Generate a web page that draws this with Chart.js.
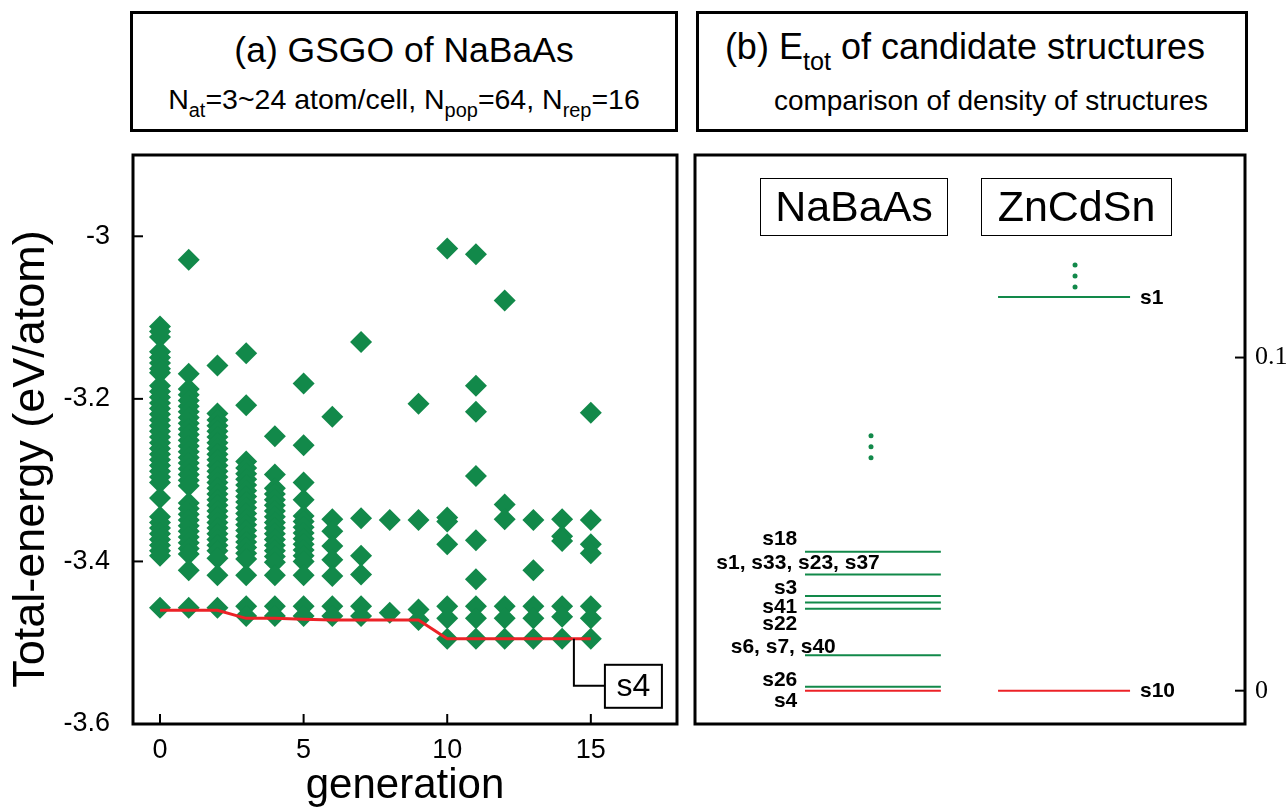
<!DOCTYPE html>
<html>
<head>
<meta charset="utf-8">
<title>GSGO of NaBaAs</title>
<script src="https://cdn.jsdelivr.net/npm/chart.js@4.4.1/dist/chart.umd.min.js"></script>
<style>
    body { margin: 0; background: #fff; font-family: "Liberation Sans", Arial, Helvetica, sans-serif; color: #000; }
    #fig { position: relative; width: 1287px; height: 808px; overflow: hidden; }
    canvas { position: absolute; top: 0; }
    #leftChart { left: 0; }
    #rightChart { left: 690px; }
    .box { position: absolute; border: 3px solid #000; box-sizing: border-box; background: #fff; }
    .line { position: absolute; left: 0; right: 0; text-align: center; white-space: nowrap; }
    .line sub { font-size: 0.7em; vertical-align: -0.42em; line-height: 0; }
    .tag { position: absolute; border: 1.5px solid #000; box-sizing: border-box; text-align: center; font-size: 43px; line-height: 55px; }
</style>
</head>
<body>
<div id="fig">
    <canvas id="leftChart" width="690" height="808"></canvas>
    <canvas id="rightChart" width="597" height="808"></canvas>

    <div class="box" style="left:130px; top:11px; width:548px; height:121px;">
        <div class="line" style="top:16px; font-size:35.5px; line-height:40px;">(a) GSGO of NaBaAs</div>
        <div class="line" style="top:68px; font-size:28.5px; line-height:34px;">N<sub>at</sub>=3~24 atom/cell, N<sub>pop</sub>=64, N<sub>rep</sub>=16</div>
    </div>
    <div class="box" style="left:696px; top:11px; width:552px; height:121px;">
        <div class="line" style="top:13px; font-size:36px; line-height:40px; padding-right:14px;">(b) E<sub>tot</sub> of candidate structures</div>
        <div class="line" style="top:70px; font-size:28px; line-height:34px; padding-left:38px;">comparison of density of structures</div>
    </div>

    <div class="tag" style="left:760px; top:178px; width:188px; height:58px;">NaBaAs</div>
    <div class="tag" style="left:981px; top:178px; width:191px; height:58px;">ZnCdSn</div>
</div>

<script>
// ---- panel (a): GSGO run ----
const generations = [0, 1, 2, 3, 4, 5, 6, 7, 8, 9, 10, 11, 12, 13, 14, 15];

// total energies (eV/atom) of the structures kept in each generation
const gen0 = [-3.111, -3.117, -3.124, -3.142, -3.149, -3.156, -3.163, -3.168, -3.184, -3.191, -3.198, -3.205,
              -3.212, -3.219, -3.226, -3.233, -3.240, -3.247, -3.254, -3.261, -3.268, -3.275, -3.282, -3.289,
              -3.296, -3.303, -3.322, -3.345, -3.352, -3.359, -3.366, -3.373, -3.380, -3.387, -3.393, -3.457];
const gen1 = [-3.029, -3.169, -3.188, -3.195, -3.202, -3.209, -3.216, -3.223, -3.230, -3.237, -3.244, -3.251,
              -3.258, -3.265, -3.272, -3.279, -3.286, -3.293, -3.300, -3.307, -3.328, -3.335, -3.342, -3.349,
              -3.356, -3.363, -3.370, -3.377, -3.384, -3.391, -3.411, -3.457];
const gen2 = [-3.159, -3.218, -3.226, -3.233, -3.240, -3.247, -3.254, -3.261, -3.268, -3.275, -3.282, -3.289,
              -3.296, -3.303, -3.310, -3.317, -3.324, -3.331, -3.338, -3.345, -3.352, -3.359, -3.366, -3.373,
              -3.380, -3.387, -3.396, -3.417, -3.457];
const gen3 = [-3.144, -3.208, -3.277, -3.285, -3.292, -3.299, -3.306, -3.313, -3.320, -3.327, -3.334, -3.341,
              -3.348, -3.355, -3.362, -3.369, -3.376, -3.383, -3.390, -3.397, -3.417, -3.455, -3.467];
const gen4 = [-3.246, -3.293, -3.310, -3.317, -3.324, -3.331, -3.338, -3.345, -3.352, -3.359, -3.366, -3.373,
              -3.380, -3.387, -3.394, -3.401, -3.417, -3.455, -3.467];
const gen5 = [-3.181, -3.257, -3.303, -3.324, -3.344, -3.351, -3.358, -3.365, -3.372, -3.379, -3.386, -3.393,
              -3.400, -3.417, -3.455, -3.467];
const gen6 = [-3.222, -3.348, -3.363, -3.381, -3.398, -3.418, -3.455, -3.467];
const gen7 = [-3.130, -3.347, -3.393, -3.416, -3.455, -3.467];
const gen8 = [-3.349, -3.463];
const gen9 = [-3.206, -3.349, -3.459, -3.472];
const gen10 = [-3.015, -3.346, -3.351, -3.379, -3.455, -3.470, -3.495];
const gen11 = [-3.022, -3.184, -3.216, -3.295, -3.374, -3.422, -3.455, -3.470, -3.495];
const gen12 = [-3.079, -3.330, -3.348, -3.455, -3.470, -3.495];
const gen13 = [-3.349, -3.411, -3.455, -3.470, -3.495];
const gen14 = [-3.348, -3.369, -3.375, -3.455, -3.468, -3.495];
const gen15 = [-3.217, -3.349, -3.379, -3.390, -3.455, -3.470, -3.495];

// lowest energy found so far (red line)
const bestSoFar = [-3.460, -3.460, -3.460, -3.470, -3.470, -3.471, -3.472, -3.472, -3.472, -3.472,
                   -3.495, -3.495, -3.495, -3.495, -3.495, -3.495];

const xTickValues = [0, 5, 10, 15];
const xTickLabels = ['0', '5', '10', '15'];
const yTickValues = [-3.6, -3.4, -3.2, -3.0];
const yTickLabels = ['-3.6', '-3.4', '-3.2', '-3'];

// ---- panel (b): candidate structures, energy relative to the lowest (eV/atom) ----
const naBaAsLevels = [0.0417, 0.0349, 0.0284, 0.0265, 0.0246, 0.0106, 0.0012, 0.0];
const naBaAsNames = ['s18', 's1, s33, s23, s37', 's3', 's41', 's22', 's6, s7, s40', 's26', 's4'];
const naBaAsDots = [0.0765, 0.0732, 0.0699];
const znCdSnLevels = [0.1182, 0.0];
const znCdSnNames = ['s1', 's10'];
const znCdSnDots = [0.1278, 0.1245, 0.1212];

const rightTickValues = [0, 0.1];
const rightTickLabels = ['0', '0.1'];

// ---- styling / layout ----
const GREEN = '#12894a';
const RED = '#ec2227';
const SANS = '"Liberation Sans", Arial, Helvetica, sans-serif';
const SERIF = '"Liberation Serif", "Times New Roman", serif';

// where the level lines and their labels sit along the hidden x axis of panel (b)
const NA_X = [2.0, 4.47];
const ZN_X = [5.51, 7.91];
const NA_DOT_X = 3.2;
const ZN_DOT_X = 6.91;
const ZN_NAME_X = 8.09;
const naNameX = [1.86, 3.36, 1.86, 1.86, 1.86, 2.56, 1.86, 1.86];
const naNameY = [0.0456, 0.0384, 0.0308, 0.0251, 0.0200, 0.0131, 0.0032, -0.0031];

Chart.defaults.font.family = SANS;
Chart.defaults.color = '#000';
Chart.defaults.animation = false;

// black frame around the plot area plus inward tick marks
const framePlugin = {
    id: 'frame',
    afterDraw(chart) {
        const { ctx, chartArea: a } = chart;
        ctx.save();
        ctx.strokeStyle = '#000';
        ctx.lineWidth = 2;
        Object.values(chart.scales).forEach(scale => {
            if (!scale.options.display) return;
            scale.ticks.forEach(t => {
                const p = scale.getPixelForValue(t.value);
                ctx.beginPath();
                if (scale.position === 'bottom') { ctx.moveTo(p, a.bottom); ctx.lineTo(p, a.bottom - 10); }
                else if (scale.position === 'left') { ctx.moveTo(a.left, p); ctx.lineTo(a.left + 10, p); }
                else if (scale.position === 'right') { ctx.moveTo(a.right, p); ctx.lineTo(a.right - 10, p); }
                ctx.stroke();
            });
        });
        ctx.lineWidth = 3;
        ctx.strokeRect(a.left, a.top, a.right - a.left, a.bottom - a.top);
        ctx.restore();
    }
};

// rotated y-axis title, sitting a bit below the middle of the axis like the original
const yTitlePlugin = {
    id: 'yTitle',
    afterDraw(chart) {
        const { ctx, scales: { y } } = chart;
        ctx.save();
        ctx.translate(32, y.getPixelForValue(-3.274));
        ctx.rotate(-Math.PI / 2);
        ctx.font = '45px ' + SANS;
        ctx.fillStyle = '#000';
        ctx.textAlign = 'center';
        ctx.textBaseline = 'middle';
        ctx.fillText('Total-energy (eV/atom)', 0, 0);
        ctx.restore();
    }
};

// "s4" call-out pointing at the final best structure
const calloutPlugin = {
    id: 'callout',
    afterDraw(chart) {
        const { ctx, scales: { x, y } } = chart;
        const px = x.getPixelForValue(14.41);
        const py = y.getPixelForValue(bestSoFar[bestSoFar.length - 1]);
        const ey = y.getPixelForValue(-3.553);
        const bx = x.getPixelForValue(15.49);
        ctx.save();
        ctx.strokeStyle = '#000';
        ctx.lineWidth = 2;
        ctx.beginPath();
        ctx.moveTo(px, py);
        ctx.lineTo(px, ey);
        ctx.lineTo(bx, ey);
        ctx.stroke();
        ctx.fillStyle = '#fff';
        ctx.fillRect(bx, ey - 21, 57, 43);
        ctx.strokeRect(bx, ey - 21, 57, 43);
        ctx.fillStyle = '#000';
        ctx.font = '32px ' + SANS;
        ctx.textAlign = 'center';
        ctx.textBaseline = 'middle';
        ctx.fillText('s4', bx + 28.5, ey + 1);
        ctx.restore();
    }
};

// structure names next to the energy levels
const levelNamesPlugin = {
    id: 'levelNames',
    afterDatasetsDraw(chart) {
        const { ctx, scales: { x, y } } = chart;
        ctx.save();
        ctx.fillStyle = '#000';
        ctx.font = 'bold 21px ' + SANS;
        ctx.textBaseline = 'middle';
        ctx.textAlign = 'right';
        naBaAsNames.forEach((name, i) => {
            ctx.fillText(name, x.getPixelForValue(naNameX[i]), y.getPixelForValue(naNameY[i]));
        });
        ctx.textAlign = 'left';
        znCdSnNames.forEach((name, i) => {
            ctx.fillText(name, x.getPixelForValue(ZN_NAME_X), y.getPixelForValue(znCdSnLevels[i]) + 1);
        });
        ctx.restore();
    }
};

function fixedTicks(values) {
    return scale => { scale.ticks = values.map(v => ({ value: v })); };
}

// ---- chart (a) ----
const populations = [gen0, gen1, gen2, gen3, gen4, gen5, gen6, gen7, gen8, gen9, gen10, gen11, gen12, gen13, gen14, gen15];
const scatterPoints = [];
populations.forEach((energies, i) => {
    energies.forEach(e => scatterPoints.push({ x: generations[i], y: e }));
});

new Chart(document.getElementById('leftChart'), {
    type: 'scatter',
    data: {
        datasets: [
            {
                type: 'line',
                label: 'best',
                data: generations.map((g, i) => ({ x: g, y: bestSoFar[i] })),
                borderColor: RED,
                borderWidth: 3,
                pointRadius: 0,
                tension: 0,
                order: 0
            },
            {
                label: 'population',
                data: scatterPoints,
                pointStyle: 'rectRot',
                pointRadius: 11,
                pointHoverRadius: 11,
                backgroundColor: GREEN,
                borderColor: GREEN,
                borderWidth: 0,
                order: 1
            }
        ]
    },
    options: {
        responsive: false,
        layout: { padding: { top: 155, right: 13, left: 0, bottom: 0 } },
        plugins: { legend: { display: false }, tooltip: { enabled: false } },
        scales: {
            x: {
                type: 'linear',
                position: 'bottom',
                min: -0.94,
                max: 18,
                afterBuildTicks: fixedTicks(xTickValues),
                afterFit: s => { s.height = 84; },
                grid: { display: false, drawTicks: false },
                border: { display: false },
                ticks: {
                    padding: 10,
                    font: { size: 27 },
                    callback: (v, i) => xTickLabels[i]
                },
                title: {
                    display: true,
                    text: 'generation',
                    font: { size: 42 },
                    padding: { top: 0, bottom: -4 }
                }
            },
            y: {
                type: 'linear',
                position: 'left',
                min: -3.6,
                max: -2.9,
                afterBuildTicks: fixedTicks(yTickValues),
                afterFit: s => { s.width = 133; },
                grid: { display: false, drawTicks: false },
                border: { display: false },
                ticks: {
                    padding: 23,
                    font: { size: 27 },
                    callback: (v, i) => yTickLabels[i]
                }
            }
        }
    },
    plugins: [framePlugin, yTitlePlugin, calloutPlugin]
});

// ---- chart (b) ----
function levelSet(levels, span, lowestColor) {
    return levels.map((e, i) => ({
        type: 'line',
        data: [{ x: span[0], y: e }, { x: span[1], y: e }],
        borderColor: i === levels.length - 1 ? lowestColor : GREEN,
        borderWidth: 2,
        pointRadius: 0
    }));
}

new Chart(document.getElementById('rightChart'), {
    type: 'scatter',
    data: {
        datasets: [
            ...levelSet(naBaAsLevels, NA_X, RED),
            ...levelSet(znCdSnLevels, ZN_X, RED),
            {
                data: naBaAsDots.map(e => ({ x: NA_DOT_X, y: e })),
                pointRadius: 2.5,
                backgroundColor: GREEN,
                borderWidth: 0
            },
            {
                data: znCdSnDots.map(e => ({ x: ZN_DOT_X, y: e })),
                pointRadius: 2.5,
                backgroundColor: GREEN,
                borderWidth: 0
            }
        ]
    },
    options: {
        responsive: false,
        layout: { padding: { top: 155, right: 0, left: 5, bottom: 84 } },
        plugins: { legend: { display: false }, tooltip: { enabled: false } },
        scales: {
            x: { type: 'linear', display: false, min: 0, max: 10 },
            y: {
                type: 'linear',
                position: 'right',
                min: -0.0100,
                max: 0.1608,
                afterBuildTicks: fixedTicks(rightTickValues),
                afterFit: s => { s.width = 42; },
                grid: { display: false, drawTicks: false },
                border: { display: false },
                ticks: {
                    padding: 10,
                    font: { family: SERIF, size: 26 },
                    callback: (v, i) => rightTickLabels[i]
                }
            }
        }
    },
    plugins: [framePlugin, levelNamesPlugin]
});
</script>
</body>
</html>
